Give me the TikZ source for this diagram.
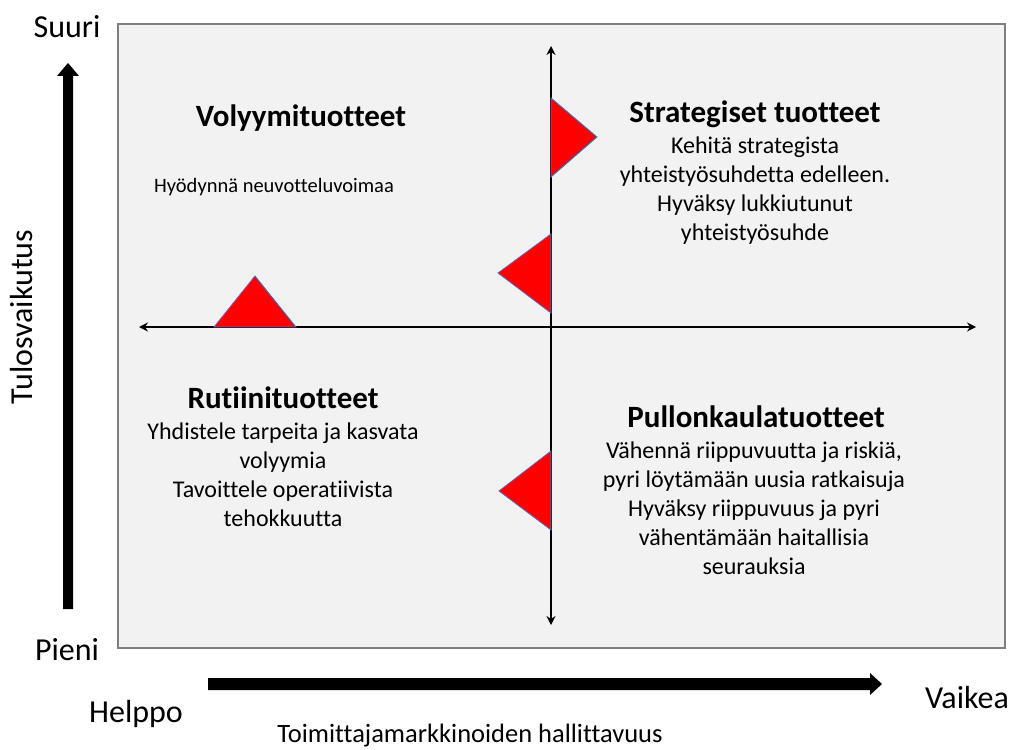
\documentclass[tikz,border=0pt]{standalone}
\usepackage{fontspec}
\setmainfont{Carlito}[Ligatures=NoCommon]
\usetikzlibrary{arrows.meta,calc}
\definecolor{panelfill}{HTML}{F2F2F2}
\definecolor{panelline}{HTML}{7F7F7F}
\definecolor{triline}{HTML}{4472C4}
\tikzset{
  panel/.style={draw=panelline, line width=2pt, fill=panelfill},
  axis/.style={line width=2.5pt, {Stealth[length=9pt,width=9pt]}-{Stealth[length=9pt,width=9pt]}},
  marker/.style={fill=red, draw=triline, line width=0.8pt, line join=miter},
  heading/.style={font=\fontsize{31}{36}\selectfont\bfseries, inner sep=0pt, align=center},
  body/.style={font=\fontsize{24}{29}\selectfont, inner sep=0pt, align=center},
  scale label/.style={font=\fontsize{32}{36}\selectfont, inner sep=0pt},
  fat arrow/.style={fill=black, draw=none}
}
\begin{document}
\begin{tikzpicture}[x=1pt, y=-1pt]
\useasboundingbox (0,0) rectangle (1011,749);

% quadrant panel
\draw[panel] (118,24) rectangle (1005,648);

% crossing axes
\coordinate (vtop) at (551,46);
\coordinate (vbot) at (551,625);
\coordinate (hleft) at (139,327);
\coordinate (hright) at (976,327);
\draw[axis] (vbot) -- (vtop);
\draw[axis] (hleft) -- (hright);

% position markers
\draw[marker] (551,98) -- (597,137) -- (551,177) -- cycle;
\draw[marker] (551,234) -- (498,273) -- (551,313) -- cycle;
\draw[marker] (551,451) -- (499,491) -- (551,530) -- cycle;
\draw[marker] (214,327) -- (255,276) -- (296,327) -- cycle;

% thick scale arrows
\coordinate (ltail) at (68,609);
\coordinate (ltip) at (68,63);
\fill[fat arrow] ($(ltail)+(-5,0)$) -- ($(ltip)+(-5,13)$) -- ($(ltip)+(-11,13)$) -- (ltip)
  -- ($(ltip)+(11,13)$) -- ($(ltip)+(5,13)$) -- ($(ltail)+(5,0)$) -- cycle;
\coordinate (btail) at (208,684);
\coordinate (btip) at (882,684);
\fill[fat arrow] ($(btail)+(0,-6)$) -- ($(btip)+(-12,-6)$) -- ($(btip)+(-12,-11)$) -- (btip)
  -- ($(btip)+(-12,11)$) -- ($(btip)+(-12,6)$) -- ($(btail)+(0,6)$) -- cycle;

% scale labels
\node[scale label] (suuri) at (67,27) {Suuri};
\node[scale label] (pieni) at (67,650) {Pieni};
\node[scale label] (helppo) at (136,714) {Helppo};
\node[scale label] (vaikea) at (967,697) {Vaikea};
\node[scale label, font=\fontsize{26.5}{30}\selectfont] (xlabel) at (470,736) {Toimittajamarkkinoiden hallittavuus};
\node[scale label, rotate=90] (ylabel) at (22,317) {Tulosvaikutus};

% quadrant texts
\node[heading] (vol) at (301,118) {Volyymituotteet};
\node[body, font=\fontsize{20.5}{29}\selectfont] (voltext) at (274,187) {Hyödynnä neuvotteluvoimaa};

\node[heading] (str) at (755,114) {Strategiset tuotteet};
\node[body, anchor=north] (strtext) at (755,137) {Kehitä strategista\\yhteistyösuhdetta edelleen.\\Hyväksy lukkiutunut\\yhteistyösuhde};

\node[heading] (rut) at (283,398) {Rutiinituotteet};
\node[body, anchor=north] (ruttext) at (283,423) {Yhdistele tarpeita ja kasvata\\volyymia\\Tavoittele operatiivista\\tehokkuutta};

\node[heading] (pul) at (756,417) {Pullonkaulatuotteet};
\node[body, anchor=north] (pultext) at (754,442) {Vähennä riippuvuutta ja riskiä,\\pyri löytämään uusia ratkaisuja\\Hyväksy riippuvuus ja pyri\\vähentämään haitallisia\\seurauksia};
\end{tikzpicture}
\end{document}
